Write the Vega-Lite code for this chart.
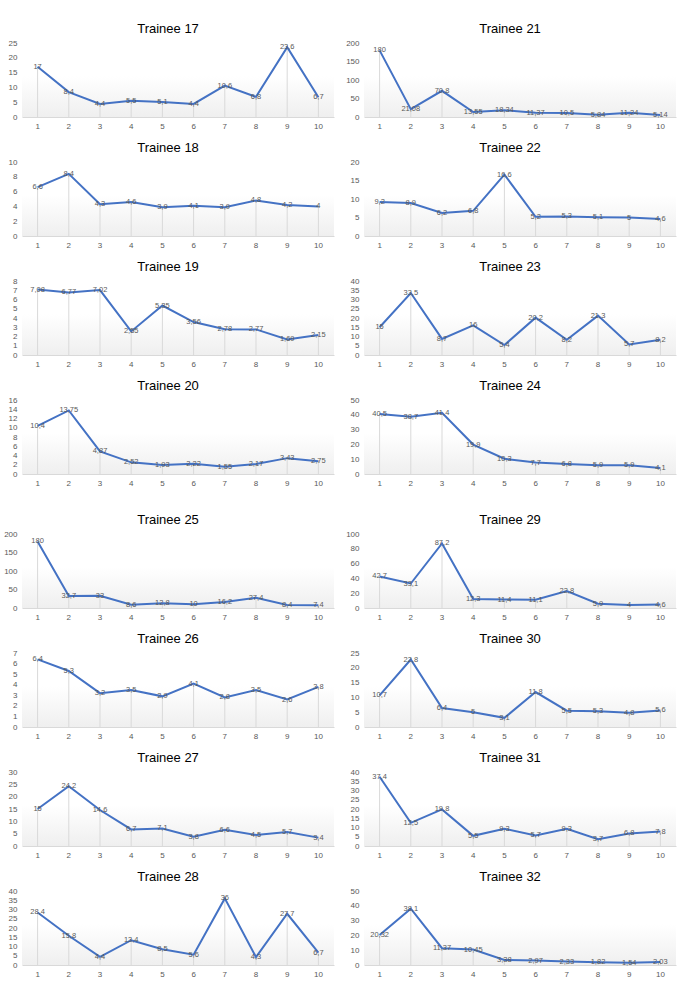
{
"$schema": "https://vega.github.io/schema/vega-lite/v6.json",
"padding": {"left": 2, "top": 23, "right": 2, "bottom": 2},
"background": "white",
"config": {
  "font": "Liberation Sans",
  "locale": {"number": {"decimal": ",", "thousands": ".", "grouping": [3], "currency": ["", " €"]}},
  "view": {"stroke": null, "fill": {"gradient": "linear", "x1": 0, "y1": 0, "x2": 0, "y2": 1, "stops": [{"offset": 0, "color": "#ffffff"}, {"offset": 0.45, "color": "#ffffff"}, {"offset": 1, "color": "#efefef"}]}},
  "title": {"fontSize": 13, "fontWeight": "normal", "font": "Liberation Sans", "color": "#000000", "offset": 3, "anchor": "middle", "frame": "bounds"},
  "axisX": {"labelAngle": 0, "ticks": false, "domainColor": "#d9d9d9", "labelFontSize": 8, "labelColor": "#595959", "labelPadding": 5, "grid": false, "title": null, "labelFont": "Liberation Sans"},
  "axisY": {"ticks": false, "domain": false, "grid": false, "labelFontSize": 8, "labelColor": "#595959", "labelPadding": 5, "minExtent": 20, "maxExtent": 20, "title": null, "labelFont": "Liberation Sans"}
},
"data": {"values": [
{"t":17,"x":1,"v":17},{"t":17,"x":2,"v":8.4},{"t":17,"x":3,"v":4.4},{"t":17,"x":4,"v":5.5},{"t":17,"x":5,"v":5.1},{"t":17,"x":6,"v":4.4},{"t":17,"x":7,"v":10.6},{"t":17,"x":8,"v":6.8},{"t":17,"x":9,"v":23.6},{"t":17,"x":10,"v":6.7},
{"t":21,"x":1,"v":180},{"t":21,"x":2,"v":21.08},{"t":21,"x":3,"v":70.8},{"t":21,"x":4,"v":13.55},{"t":21,"x":5,"v":18.34},{"t":21,"x":6,"v":11.37},{"t":21,"x":7,"v":10.5},{"t":21,"x":8,"v":5.84},{"t":21,"x":9,"v":11.24},{"t":21,"x":10,"v":5.14},
{"t":18,"x":1,"v":6.6},{"t":18,"x":2,"v":8.4},{"t":18,"x":3,"v":4.3},{"t":18,"x":4,"v":4.6},{"t":18,"x":5,"v":3.9},{"t":18,"x":6,"v":4.1},{"t":18,"x":7,"v":3.9},{"t":18,"x":8,"v":4.8},{"t":18,"x":9,"v":4.2},{"t":18,"x":10,"v":4},
{"t":22,"x":1,"v":9.2},{"t":22,"x":2,"v":8.9},{"t":22,"x":3,"v":6.2},{"t":22,"x":4,"v":6.8},{"t":22,"x":5,"v":16.6},{"t":22,"x":6,"v":5.2},{"t":22,"x":7,"v":5.3},{"t":22,"x":8,"v":5.1},{"t":22,"x":9,"v":5},{"t":22,"x":10,"v":4.6},
{"t":19,"x":1,"v":7.08},{"t":19,"x":2,"v":6.77},{"t":19,"x":3,"v":7.02},{"t":19,"x":4,"v":2.55},{"t":19,"x":5,"v":5.35},{"t":19,"x":6,"v":3.56},{"t":19,"x":7,"v":2.78},{"t":19,"x":8,"v":2.77},{"t":19,"x":9,"v":1.69},{"t":19,"x":10,"v":2.15},
{"t":23,"x":1,"v":15},{"t":23,"x":2,"v":33.5},{"t":23,"x":3,"v":8.7},{"t":23,"x":4,"v":16},{"t":23,"x":5,"v":5.4},{"t":23,"x":6,"v":20.2},{"t":23,"x":7,"v":8.2},{"t":23,"x":8,"v":21.3},{"t":23,"x":9,"v":5.7},{"t":23,"x":10,"v":8.2},
{"t":20,"x":1,"v":10.4},{"t":20,"x":2,"v":13.75},{"t":20,"x":3,"v":4.87},{"t":20,"x":4,"v":2.52},{"t":20,"x":5,"v":1.93},{"t":20,"x":6,"v":2.22},{"t":20,"x":7,"v":1.55},{"t":20,"x":8,"v":2.17},{"t":20,"x":9,"v":3.43},{"t":20,"x":10,"v":2.75},
{"t":24,"x":1,"v":40.5},{"t":24,"x":2,"v":38.7},{"t":24,"x":3,"v":41.4},{"t":24,"x":4,"v":19.9},{"t":24,"x":5,"v":10.3},{"t":24,"x":6,"v":7.7},{"t":24,"x":7,"v":6.8},{"t":24,"x":8,"v":5.9},{"t":24,"x":9,"v":5.9},{"t":24,"x":10,"v":4.1},
{"t":25,"x":1,"v":180},{"t":25,"x":2,"v":32.7},{"t":25,"x":3,"v":33},{"t":25,"x":4,"v":8.6},{"t":25,"x":5,"v":12.8},{"t":25,"x":6,"v":10},{"t":25,"x":7,"v":16.2},{"t":25,"x":8,"v":27.4},{"t":25,"x":9,"v":8.4},{"t":25,"x":10,"v":7.4},
{"t":29,"x":1,"v":42.7},{"t":29,"x":2,"v":33.1},{"t":29,"x":3,"v":87.2},{"t":29,"x":4,"v":12.3},{"t":29,"x":5,"v":11.4},{"t":29,"x":6,"v":11.1},{"t":29,"x":7,"v":22.8},{"t":29,"x":8,"v":5.9},{"t":29,"x":9,"v":4},{"t":29,"x":10,"v":4.6},
{"t":26,"x":1,"v":6.4},{"t":26,"x":2,"v":5.3},{"t":26,"x":3,"v":3.2},{"t":26,"x":4,"v":3.5},{"t":26,"x":5,"v":2.9},{"t":26,"x":6,"v":4.1},{"t":26,"x":7,"v":2.8},{"t":26,"x":8,"v":3.5},{"t":26,"x":9,"v":2.6},{"t":26,"x":10,"v":3.8},
{"t":30,"x":1,"v":10.7},{"t":30,"x":2,"v":22.8},{"t":30,"x":3,"v":6.4},{"t":30,"x":4,"v":5},{"t":30,"x":5,"v":3.1},{"t":30,"x":6,"v":11.8},{"t":30,"x":7,"v":5.5},{"t":30,"x":8,"v":5.3},{"t":30,"x":9,"v":4.8},{"t":30,"x":10,"v":5.6},
{"t":27,"x":1,"v":15},{"t":27,"x":2,"v":24.2},{"t":27,"x":3,"v":14.6},{"t":27,"x":4,"v":6.7},{"t":27,"x":5,"v":7.1},{"t":27,"x":6,"v":3.8},{"t":27,"x":7,"v":6.6},{"t":27,"x":8,"v":4.5},{"t":27,"x":9,"v":5.7},{"t":27,"x":10,"v":3.4},
{"t":31,"x":1,"v":37.4},{"t":31,"x":2,"v":12.5},{"t":31,"x":3,"v":19.8},{"t":31,"x":4,"v":5.5},{"t":31,"x":5,"v":9.3},{"t":31,"x":6,"v":5.7},{"t":31,"x":7,"v":9.3},{"t":31,"x":8,"v":3.7},{"t":31,"x":9,"v":6.8},{"t":31,"x":10,"v":7.8},
{"t":28,"x":1,"v":28.4},{"t":28,"x":2,"v":15.8},{"t":28,"x":3,"v":4.4},{"t":28,"x":4,"v":13.4},{"t":28,"x":5,"v":8.5},{"t":28,"x":6,"v":5.6},{"t":28,"x":7,"v":36},{"t":28,"x":8,"v":4.3},{"t":28,"x":9,"v":27.7},{"t":28,"x":10,"v":6.7},
{"t":32,"x":1,"v":20.32},{"t":32,"x":2,"v":38.1},{"t":32,"x":3,"v":11.37},{"t":32,"x":4,"v":10.45},{"t":32,"x":5,"v":3.38},{"t":32,"x":6,"v":2.97},{"t":32,"x":7,"v":2.33},{"t":32,"x":8,"v":1.82},{"t":32,"x":9,"v":1.54},{"t":32,"x":10,"v":2.03}
]},
"spacing": 27,
"vconcat": [
{"spacing": 12, "vconcat": [
 {"spacing": 10, "hconcat": [
  {"title": "Trainee 17", "width": 312, "height": 74, "transform": [{"filter": "datum.t == 17"}],
   "encoding": {"x": {"field": "x", "type": "ordinal"}, "y": {"field": "v", "type": "quantitative", "scale": {"domain": [0, 25]}, "axis": {"values": [0, 5, 10, 15, 20, 25]}}},
   "layer": [{"mark": {"type": "rule", "color": "#d9d9d9"}, "encoding": {"y2": {"datum": 0}}}, {"mark": {"type": "line", "color": "#4472c4", "strokeWidth": 2}}, {"mark": {"type": "text", "fontSize": 7.5, "color": "#595959"}, "encoding": {"text": {"field": "v", "type": "quantitative", "format": ".2~f"}}}]},
  {"title": "Trainee 21", "width": 312, "height": 74, "transform": [{"filter": "datum.t == 21"}],
   "encoding": {"x": {"field": "x", "type": "ordinal"}, "y": {"field": "v", "type": "quantitative", "scale": {"domain": [0, 200]}, "axis": {"values": [0, 50, 100, 150, 200]}}},
   "layer": [{"mark": {"type": "rule", "color": "#d9d9d9"}, "encoding": {"y2": {"datum": 0}}}, {"mark": {"type": "line", "color": "#4472c4", "strokeWidth": 2}}, {"mark": {"type": "text", "fontSize": 7.5, "color": "#595959"}, "encoding": {"text": {"field": "v", "type": "quantitative", "format": ".2~f"}}}]}
 ]},
 {"spacing": 10, "hconcat": [
  {"title": "Trainee 18", "width": 312, "height": 74, "transform": [{"filter": "datum.t == 18"}],
   "encoding": {"x": {"field": "x", "type": "ordinal"}, "y": {"field": "v", "type": "quantitative", "scale": {"domain": [0, 10]}, "axis": {"values": [0, 2, 4, 6, 8, 10]}}},
   "layer": [{"mark": {"type": "rule", "color": "#d9d9d9"}, "encoding": {"y2": {"datum": 0}}}, {"mark": {"type": "line", "color": "#4472c4", "strokeWidth": 2}}, {"mark": {"type": "text", "fontSize": 7.5, "color": "#595959"}, "encoding": {"text": {"field": "v", "type": "quantitative", "format": ".2~f"}}}]},
  {"title": "Trainee 22", "width": 312, "height": 74, "transform": [{"filter": "datum.t == 22"}],
   "encoding": {"x": {"field": "x", "type": "ordinal"}, "y": {"field": "v", "type": "quantitative", "scale": {"domain": [0, 20]}, "axis": {"values": [0, 5, 10, 15, 20]}}},
   "layer": [{"mark": {"type": "rule", "color": "#d9d9d9"}, "encoding": {"y2": {"datum": 0}}}, {"mark": {"type": "line", "color": "#4472c4", "strokeWidth": 2}}, {"mark": {"type": "text", "fontSize": 7.5, "color": "#595959"}, "encoding": {"text": {"field": "v", "type": "quantitative", "format": ".2~f"}}}]}
 ]},
 {"spacing": 10, "hconcat": [
  {"title": "Trainee 19", "width": 312, "height": 74, "transform": [{"filter": "datum.t == 19"}],
   "encoding": {"x": {"field": "x", "type": "ordinal"}, "y": {"field": "v", "type": "quantitative", "scale": {"domain": [0, 8]}, "axis": {"values": [0, 1, 2, 3, 4, 5, 6, 7, 8]}}},
   "layer": [{"mark": {"type": "rule", "color": "#d9d9d9"}, "encoding": {"y2": {"datum": 0}}}, {"mark": {"type": "line", "color": "#4472c4", "strokeWidth": 2}}, {"mark": {"type": "text", "fontSize": 7.5, "color": "#595959"}, "encoding": {"text": {"field": "v", "type": "quantitative", "format": ".2~f"}}}]},
  {"title": "Trainee 23", "width": 312, "height": 74, "transform": [{"filter": "datum.t == 23"}],
   "encoding": {"x": {"field": "x", "type": "ordinal"}, "y": {"field": "v", "type": "quantitative", "scale": {"domain": [0, 40]}, "axis": {"values": [0, 5, 10, 15, 20, 25, 30, 35, 40]}}},
   "layer": [{"mark": {"type": "rule", "color": "#d9d9d9"}, "encoding": {"y2": {"datum": 0}}}, {"mark": {"type": "line", "color": "#4472c4", "strokeWidth": 2}}, {"mark": {"type": "text", "fontSize": 7.5, "color": "#595959"}, "encoding": {"text": {"field": "v", "type": "quantitative", "format": ".2~f"}}}]}
 ]},
 {"spacing": 10, "hconcat": [
  {"title": "Trainee 20", "width": 312, "height": 74, "transform": [{"filter": "datum.t == 20"}],
   "encoding": {"x": {"field": "x", "type": "ordinal"}, "y": {"field": "v", "type": "quantitative", "scale": {"domain": [0, 16]}, "axis": {"values": [0, 2, 4, 6, 8, 10, 12, 14, 16]}}},
   "layer": [{"mark": {"type": "rule", "color": "#d9d9d9"}, "encoding": {"y2": {"datum": 0}}}, {"mark": {"type": "line", "color": "#4472c4", "strokeWidth": 2}}, {"mark": {"type": "text", "fontSize": 7.5, "color": "#595959"}, "encoding": {"text": {"field": "v", "type": "quantitative", "format": ".2~f"}}}]},
  {"title": "Trainee 24", "width": 312, "height": 74, "transform": [{"filter": "datum.t == 24"}],
   "encoding": {"x": {"field": "x", "type": "ordinal"}, "y": {"field": "v", "type": "quantitative", "scale": {"domain": [0, 50]}, "axis": {"values": [0, 10, 20, 30, 40, 50]}}},
   "layer": [{"mark": {"type": "rule", "color": "#d9d9d9"}, "encoding": {"y2": {"datum": 0}}}, {"mark": {"type": "line", "color": "#4472c4", "strokeWidth": 2}}, {"mark": {"type": "text", "fontSize": 7.5, "color": "#595959"}, "encoding": {"text": {"field": "v", "type": "quantitative", "format": ".2~f"}}}]}
 ]}
]},
{"spacing": 12, "vconcat": [
 {"spacing": 10, "hconcat": [
  {"title": "Trainee 25", "width": 312, "height": 74, "transform": [{"filter": "datum.t == 25"}],
   "encoding": {"x": {"field": "x", "type": "ordinal"}, "y": {"field": "v", "type": "quantitative", "scale": {"domain": [0, 200]}, "axis": {"values": [0, 50, 100, 150, 200]}}},
   "layer": [{"mark": {"type": "rule", "color": "#d9d9d9"}, "encoding": {"y2": {"datum": 0}}}, {"mark": {"type": "line", "color": "#4472c4", "strokeWidth": 2}}, {"mark": {"type": "text", "fontSize": 7.5, "color": "#595959"}, "encoding": {"text": {"field": "v", "type": "quantitative", "format": ".2~f"}}}]},
  {"title": "Trainee 29", "width": 312, "height": 74, "transform": [{"filter": "datum.t == 29"}],
   "encoding": {"x": {"field": "x", "type": "ordinal"}, "y": {"field": "v", "type": "quantitative", "scale": {"domain": [0, 100]}, "axis": {"values": [0, 20, 40, 60, 80, 100]}}},
   "layer": [{"mark": {"type": "rule", "color": "#d9d9d9"}, "encoding": {"y2": {"datum": 0}}}, {"mark": {"type": "line", "color": "#4472c4", "strokeWidth": 2}}, {"mark": {"type": "text", "fontSize": 7.5, "color": "#595959"}, "encoding": {"text": {"field": "v", "type": "quantitative", "format": ".2~f"}}}]}
 ]},
 {"spacing": 10, "hconcat": [
  {"title": "Trainee 26", "width": 312, "height": 74, "transform": [{"filter": "datum.t == 26"}],
   "encoding": {"x": {"field": "x", "type": "ordinal"}, "y": {"field": "v", "type": "quantitative", "scale": {"domain": [0, 7]}, "axis": {"values": [0, 1, 2, 3, 4, 5, 6, 7]}}},
   "layer": [{"mark": {"type": "rule", "color": "#d9d9d9"}, "encoding": {"y2": {"datum": 0}}}, {"mark": {"type": "line", "color": "#4472c4", "strokeWidth": 2}}, {"mark": {"type": "text", "fontSize": 7.5, "color": "#595959"}, "encoding": {"text": {"field": "v", "type": "quantitative", "format": ".2~f"}}}]},
  {"title": "Trainee 30", "width": 312, "height": 74, "transform": [{"filter": "datum.t == 30"}],
   "encoding": {"x": {"field": "x", "type": "ordinal"}, "y": {"field": "v", "type": "quantitative", "scale": {"domain": [0, 25]}, "axis": {"values": [0, 5, 10, 15, 20, 25]}}},
   "layer": [{"mark": {"type": "rule", "color": "#d9d9d9"}, "encoding": {"y2": {"datum": 0}}}, {"mark": {"type": "line", "color": "#4472c4", "strokeWidth": 2}}, {"mark": {"type": "text", "fontSize": 7.5, "color": "#595959"}, "encoding": {"text": {"field": "v", "type": "quantitative", "format": ".2~f"}}}]}
 ]},
 {"spacing": 10, "hconcat": [
  {"title": "Trainee 27", "width": 312, "height": 74, "transform": [{"filter": "datum.t == 27"}],
   "encoding": {"x": {"field": "x", "type": "ordinal"}, "y": {"field": "v", "type": "quantitative", "scale": {"domain": [0, 30]}, "axis": {"values": [0, 5, 10, 15, 20, 25, 30]}}},
   "layer": [{"mark": {"type": "rule", "color": "#d9d9d9"}, "encoding": {"y2": {"datum": 0}}}, {"mark": {"type": "line", "color": "#4472c4", "strokeWidth": 2}}, {"mark": {"type": "text", "fontSize": 7.5, "color": "#595959"}, "encoding": {"text": {"field": "v", "type": "quantitative", "format": ".2~f"}}}]},
  {"title": "Trainee 31", "width": 312, "height": 74, "transform": [{"filter": "datum.t == 31"}],
   "encoding": {"x": {"field": "x", "type": "ordinal"}, "y": {"field": "v", "type": "quantitative", "scale": {"domain": [0, 40]}, "axis": {"values": [0, 5, 10, 15, 20, 25, 30, 35, 40]}}},
   "layer": [{"mark": {"type": "rule", "color": "#d9d9d9"}, "encoding": {"y2": {"datum": 0}}}, {"mark": {"type": "line", "color": "#4472c4", "strokeWidth": 2}}, {"mark": {"type": "text", "fontSize": 7.5, "color": "#595959"}, "encoding": {"text": {"field": "v", "type": "quantitative", "format": ".2~f"}}}]}
 ]},
 {"spacing": 10, "hconcat": [
  {"title": "Trainee 28", "width": 312, "height": 74, "transform": [{"filter": "datum.t == 28"}],
   "encoding": {"x": {"field": "x", "type": "ordinal"}, "y": {"field": "v", "type": "quantitative", "scale": {"domain": [0, 40]}, "axis": {"values": [0, 5, 10, 15, 20, 25, 30, 35, 40]}}},
   "layer": [{"mark": {"type": "rule", "color": "#d9d9d9"}, "encoding": {"y2": {"datum": 0}}}, {"mark": {"type": "line", "color": "#4472c4", "strokeWidth": 2}}, {"mark": {"type": "text", "fontSize": 7.5, "color": "#595959"}, "encoding": {"text": {"field": "v", "type": "quantitative", "format": ".2~f"}}}]},
  {"title": "Trainee 32", "width": 312, "height": 74, "transform": [{"filter": "datum.t == 32"}],
   "encoding": {"x": {"field": "x", "type": "ordinal"}, "y": {"field": "v", "type": "quantitative", "scale": {"domain": [0, 50]}, "axis": {"values": [0, 10, 20, 30, 40, 50]}}},
   "layer": [{"mark": {"type": "rule", "color": "#d9d9d9"}, "encoding": {"y2": {"datum": 0}}}, {"mark": {"type": "line", "color": "#4472c4", "strokeWidth": 2}}, {"mark": {"type": "text", "fontSize": 7.5, "color": "#595959"}, "encoding": {"text": {"field": "v", "type": "quantitative", "format": ".2~f"}}}]}
 ]}
]}
]
}
